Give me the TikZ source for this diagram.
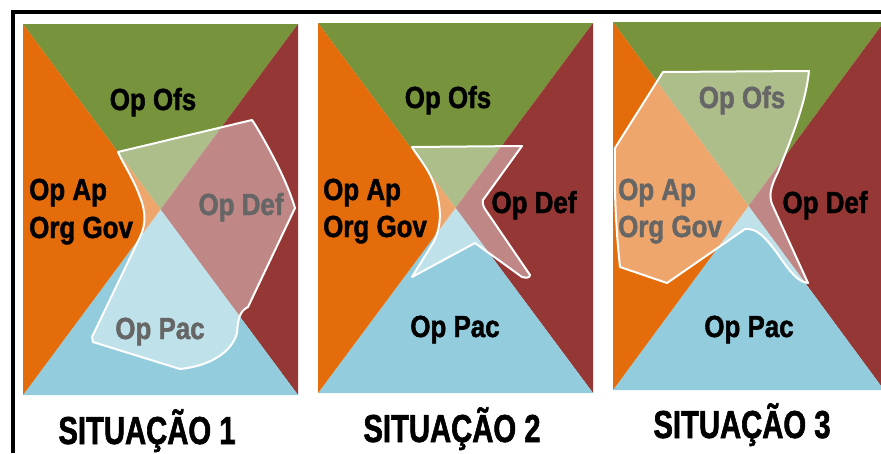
\documentclass[tikz,border=0pt]{standalone}
\usepackage{fontspec}
\setmainfont{Liberation Sans}
\newfontfamily\lblfont[FakeStretch=0.85,FakeBold=1.5]{Liberation Sans}
\newfontfamily\capfont[FakeStretch=0.75,FakeBold=1.5]{Liberation Sans}
\definecolor{ofsgreen}{HTML}{77933C}
\definecolor{apgorange}{HTML}{E46C0A}
\definecolor{defred}{HTML}{953735}
\definecolor{pacblue}{HTML}{93CDDD}
\tikzset{
  lbl/.style={font=\lblfont\bfseries\fontsize{30.5}{32}\selectfont, inner sep=0pt, text=black},
  captxt/.style={font=\capfont\bfseries\fontsize{39}{42}\selectfont, inner sep=0pt, anchor=base, text=black},
  zone/.style={fill=white, fill opacity=0.4, draw=white, draw opacity=1, line width=2pt, line join=round},
}
% one square split into four triangles by its diagonals
\newcommand{\quadpanel}[5]{%
  \coordinate (#1tl) at (#2,#3);
  \coordinate (#1tr) at (#4,#3);
  \coordinate (#1br) at (#4,#5);
  \coordinate (#1bl) at (#2,#5);
  \coordinate (#1c) at ({(#2+#4)/2},{(#3+#5)/2});
  \fill[ofsgreen] (#1tl) -- (#1tr) -- (#1c) -- cycle;
  \fill[defred] (#1tr) -- (#1br) -- (#1c) -- cycle;
  \fill[pacblue] (#1br) -- (#1bl) -- (#1c) -- cycle;
  \fill[apgorange] (#1bl) -- (#1tl) -- (#1c) -- cycle;
}
\begin{document}
\begin{tikzpicture}[x=1pt,y=-1pt]
\useasboundingbox (0,0) rectangle (881,453);
\fill[white] (0,0) rectangle (881,453);

% outer frame
\draw[line width=4pt] (13,453) -- (13,12) -- (881,12);

% the three panels
\quadpanel{pa}{23}{24}{298}{395}
\quadpanel{pb}{318}{23}{593}{393}
\quadpanel{pc}{613}{22}{884}{390}

% panel 1 labels
\node[lbl, anchor=base] (aofs) at (153,110) {Op Ofs};
\node[lbl, anchor=base west] (aap) at (29,200) {Op Ap};
\node[lbl, anchor=base west] (agov) at (29,238) {Org Gov};
\node[lbl, anchor=base] (adef) at (241,215) {Op Def};
\node[lbl, anchor=base] (apac) at (160,339) {Op Pac};

% panel 2 labels
\node[lbl, anchor=base] (bofs) at (448,108) {Op Ofs};
\node[lbl, anchor=base west] (bap) at (323,200) {Op Ap};
\node[lbl, anchor=base west] (bgov) at (323,237) {Org Gov};
\node[lbl, anchor=base] (bdef) at (534,213) {Op Def};
\node[lbl, anchor=base] (bpac) at (455,337) {Op Pac};

% panel 3 labels
\node[lbl, anchor=base] (cofs) at (742,108) {Op Ofs};
\node[lbl, anchor=base west] (cap) at (618,200) {Op Ap};
\node[lbl, anchor=base west] (cgov) at (618,237) {Org Gov};
\node[lbl, anchor=base] (cdef) at (825,213) {Op Def};
\node[lbl, anchor=base] (cpac) at (749,337) {Op Pac};

% translucent zones
\path[zone] (118,152) -- (252,120) -- (256,126)
  .. controls (276,160) and (288,185) .. (295,208)
  -- (248,307) .. controls (240,311) and (238,318) .. (237,333)
  .. controls (232,352) and (210,366) .. (180,369)
  -- (93,342) -- (92,337) -- (140,237)
  .. controls (146,225) and (146,212) .. (140,197)
  .. controls (134,180) and (124,165) .. cycle;

\path[zone] (412,147) -- (522,146) -- (483,200)
  .. controls (482,204) and (484,208) .. (487,212)
  -- (530,275) .. controls (530,278) and (526,278) .. (522,277)
  -- (475,243) -- (412,277) -- (433,243)
  .. controls (441,228) and (442,212) .. (436,190)
  .. controls (430,170) and (420,160) .. cycle;

\path[zone] (663,72) -- (809,71)
  .. controls (806,100) and (795,130) .. (778,172)
  .. controls (770,188) and (769,196) .. (772,204)
  -- (808,283) .. controls (798,282) and (790,272) .. (777,253)
  .. controls (765,237) and (757,228) .. (745,229)
  -- (667,283) -- (620,267)
  .. controls (616,230) and (614,190) .. (615,148) -- cycle;

% captions
\node[captxt] (s1) at (147,444) {SITUAÇÃO 1};
\node[captxt] (s2) at (452,442) {SITUAÇÃO 2};
\node[captxt] (s3) at (742,438) {SITUAÇÃO 3};
\end{tikzpicture}
\end{document}
